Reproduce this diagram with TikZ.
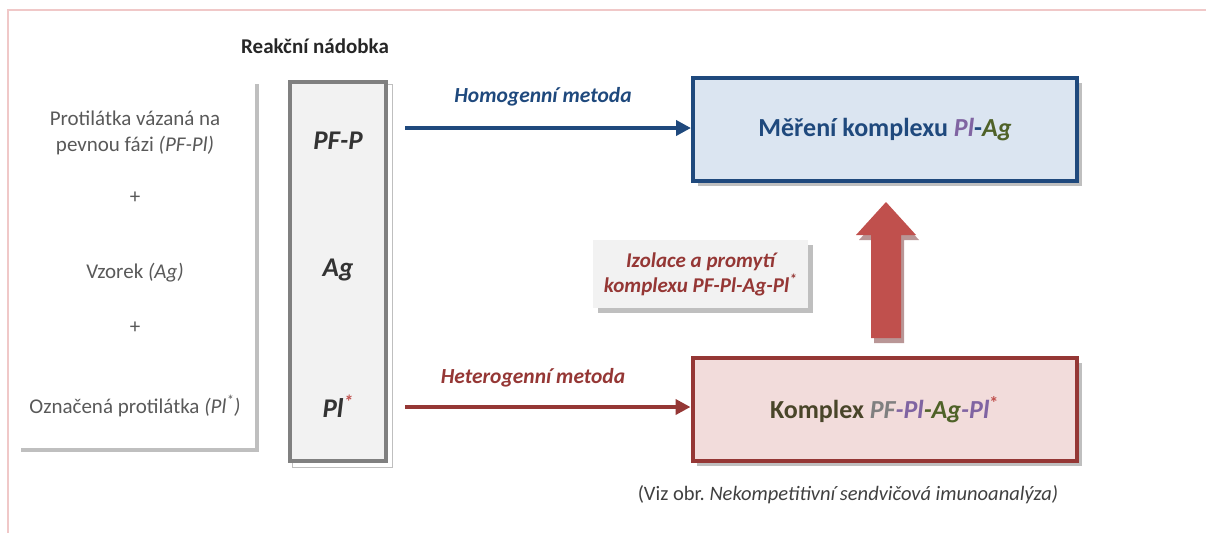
\documentclass[tikz,border=0pt]{standalone}
\usepackage{fontspec}
\setmainfont{Carlito}
\usetikzlibrary{arrows.meta,calc}
\definecolor{framepink}{RGB}{240,200,200}
\definecolor{txtgray}{RGB}{89,89,89}
\definecolor{shadowgray}{RGB}{191,191,191}
\definecolor{vesselline}{RGB}{128,128,128}
\definecolor{vesselfill}{RGB}{242,242,242}
\definecolor{navy}{RGB}{31,73,125}
\definecolor{navyfill}{RGB}{219,229,241}
\definecolor{wine}{RGB}{149,55,53}
\definecolor{winefill}{RGB}{242,220,219}
\definecolor{brick}{RGB}{192,80,77}
\definecolor{brickshadow}{RGB}{185,150,150}
\definecolor{lilac}{RGB}{128,100,162}
\definecolor{olive}{RGB}{79,98,40}
\definecolor{umber}{RGB}{73,69,41}
\definecolor{capgray}{RGB}{64,64,64}
\newcommand{\redstar}{\textsuperscript{\textcolor{brick}{*}}}
\tikzset{
  plain/.style={font=\fontsize{21}{26}\selectfont, text=txtgray, align=center},
  hdr/.style={font=\fontsize{21}{24}\selectfont\bfseries, text=black!85},
  vtext/.style={font=\fontsize{27}{30}\selectfont\bfseries\itshape, text=black!80},
  methodlabel/.style={font=\fontsize{21.5}{24}\selectfont\bfseries\itshape},
  flow/.style={line width=4pt, -{Triangle[length=15pt,width=15pt]}},
  resultbox/.style={minimum width=384pt, minimum height=103pt, line width=4pt,
    font=\fontsize{26}{30}\selectfont\bfseries},
}
\begin{document}
\begin{tikzpicture}[x=1pt,y=-1pt]
\useasboundingbox (0,0) rectangle (1206,533);
% outer frame
\draw[framepink, line width=1.5pt] (1206,10) -- (8,10) -- (8,533);

% left panel shadow edges
\draw[shadowgray, line width=4pt] (256.5,84) -- (256.5,449.5) -- (21,449.5);
\node[plain] (ab) at (135,133) {Protilátka vázaná na\\pevnou fázi \textit{(PF-Pl)}};
\node[plain] (plus1) at (135,198) {+};
\node[plain] (sample) at (135,273) {Vzorek \textit{(Ag)}};
\node[plain] (plus2) at (135,328) {+};
\node[plain] (label) at (135,406) {Označená protilátka \textit{(Pl\textsuperscript{*})}};

% reaction vessel
\node[hdr] (vesseltitle) at (315,46) {Reakční nádobka};
\draw[shadowgray, line width=1pt, fill=white] (292,84) rectangle (392,467);
\node[draw=vesselline, fill=vesselfill, line width=4pt, minimum width=96pt,
      minimum height=379pt, inner sep=0pt] (vessel) at (338,271.5) {};
\node[vtext] (pfp) at (338,141) {PF-P};
\node[vtext] (ag) at (338,270) {Ag};
\node[vtext] (pl) at (338,406) {Pl\redstar};

% measurement box
\fill[shadowgray] (698,83) rectangle (1082,186);
\node[resultbox, draw=navy, fill=navyfill, text=navy] (measure) at (885,129.5)
  {Měření komplexu \textcolor{lilac}{\itshape Pl}-\textcolor{olive}{\itshape Ag}};

% complex box
\fill[shadowgray] (697,363) rectangle (1082,466);
\node[resultbox, draw=wine, fill=winefill, text=umber] (complex) at (884.5,409.5)
  {Komplex {\itshape\textcolor{vesselline}{PF}\textcolor{lilac}{-Pl}\textcolor{olive}{-Ag}\textcolor{lilac}{-Pl}}\redstar};

% method arrows
\coordinate (homstart) at (405,128);
\coordinate (hetstart) at (405,407);
\draw[flow, navy] (homstart) -- (homstart -| measure.west) coordinate (homend);
\node[methodlabel, text=navy] (homlabel) at (543,97) {Homogenní metoda};
\draw[flow, wine] (hetstart) -- (hetstart -| complex.west) coordinate (hetend);
\node[methodlabel, text=wine] (hetlabel) at (533,378) {Heterogenní metoda};

% isolation step label
\fill[shadowgray] (598,245) rectangle (813,313);
\node[fill=vesselfill, minimum width=215pt, minimum height=68pt, align=center,
      text=wine, font=\fontsize{21}{25}\selectfont\bfseries\itshape]
  (isol) at (700.5,274) {Izolace a promytí\\komplexu PF-Pl-Ag-Pl\textsuperscript{*}};

% block arrow from complex up to measurement
\fill[brickshadow] (874,343) -- (874,240) -- (859,240) -- (889,207) -- (919,240)
  -- (904,240) -- (904,343) -- cycle;
\fill[brick] (871,338) -- (871,235) -- (856,235) -- (886,202) -- (916,235)
  -- (901,235) -- (901,338) -- cycle;

% reference note
\node[font=\fontsize{20.5}{24}\selectfont, text=capgray] (note) at (848,495)
  {(Viz obr.\ \textit{Nekompetitivní sendvičová imunoanalýza)}};
\end{tikzpicture}
\end{document}
